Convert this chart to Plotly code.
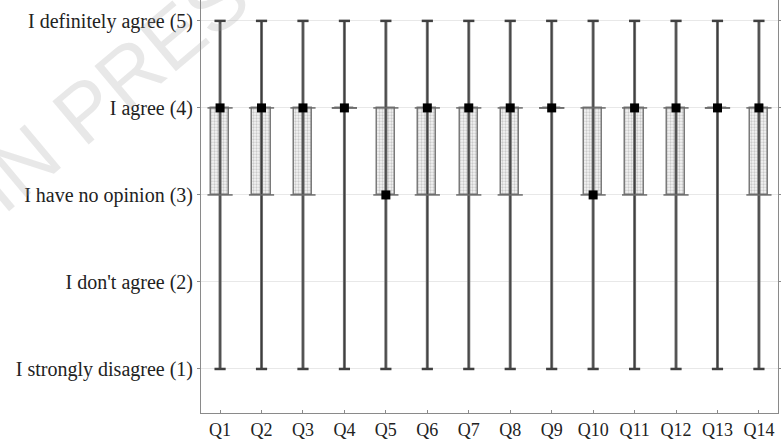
import plotly.graph_objects as go

questions = ["Q1", "Q2", "Q3", "Q4", "Q5", "Q6", "Q7", "Q8", "Q9", "Q10", "Q11", "Q12", "Q13", "Q14"]
mins = [1, 1, 1, 1, 1, 1, 1, 1, 1, 1, 1, 1, 1, 1]
q1s = [3, 3, 3, 4, 3, 3, 3, 3, 4, 3, 3, 3, 4, 3]
medians = [4, 4, 4, 4, 3, 4, 4, 4, 4, 3, 4, 4, 4, 4]
q3s = [4, 4, 4, 4, 4, 4, 4, 4, 4, 4, 4, 4, 4, 4]
maxs = [5, 5, 5, 5, 5, 5, 5, 5, 5, 5, 5, 5, 5, 5]
level_values = [1, 2, 3, 4, 5]
level_labels = ["I strongly disagree (1)", "I don't agree (2)", "I have no opinion (3)",
                "I agree (4)", "I definitely agree (5)"]

serif = "Liberation Serif, Times New Roman, serif"

wx, wy = [], []
for q, lo, hi in zip(questions, mins, maxs):
    wx += [q, q, None]
    wy += [lo, hi, None]

fig = go.Figure()

# whiskers
fig.add_trace(go.Scatter(x=wx, y=wy, mode="lines",
                         line=dict(color="#6e6e6e", width=3), hoverinfo="skip"))
fig.add_trace(go.Scatter(x=wx, y=wy, mode="lines",
                         line=dict(color="#3c3c3c", width=1), hoverinfo="skip"))
# caps
fig.add_trace(go.Scatter(x=questions + questions, y=mins + maxs, mode="markers",
                         marker=dict(symbol="line-ew", size=8,
                                     line=dict(color="#404040", width=2.5)),
                         hoverinfo="skip"))
# boxes
fig.add_trace(go.Bar(x=questions, base=q1s, y=[b - a for a, b in zip(q1s, q3s)],
                     width=0.44,
                     marker=dict(color="white",
                                 line=dict(color="#7a7a7a", width=1.5),
                                 pattern=dict(shape=".", fgcolor="#a0a0a0", bgcolor="#f4f4f4",
                                              size=3, solidity=0.45))))
# box edges (visible also for collapsed boxes)
fig.add_trace(go.Scatter(x=questions + questions, y=q1s + q3s, mode="markers",
                         marker=dict(symbol="line-ew", size=18,
                                     line=dict(color="#6a6a6a", width=1.5)),
                         hoverinfo="skip"))
# medians
fig.add_trace(go.Scatter(x=questions, y=medians, mode="markers",
                         marker=dict(symbol="square", size=9, color="black",
                                     line=dict(width=0))))

fig.add_annotation(text="IN PRESS", xref="paper", yref="paper", x=-0.121, y=0.828,
                   xanchor="center", yanchor="middle",
                   showarrow=False, textangle=-40,
                   font=dict(family="Liberation Sans, Arial, sans-serif", size=82,
                             color="rgba(150,150,150,0.22)"))

fig.update_layout(
    width=781, height=446,
    margin=dict(l=201, r=3, t=0, b=33),
    paper_bgcolor="white", plot_bgcolor="white",
    showlegend=False, bargap=0,
    xaxis=dict(categoryorder="array", categoryarray=questions,
               range=[-0.46, 13.46], showgrid=False, zeroline=False,
               showline=True, linecolor="#8a8a8a", linewidth=1,
               ticks="inside", ticklen=3, tickcolor="#8a8a8a",
               tickfont=dict(family=serif, size=18, color="#222")),
    yaxis=dict(range=[0.494, 5.24], tickvals=level_values, ticktext=level_labels,
               showgrid=True, gridcolor="#e8e8e8", gridwidth=1, zeroline=False,
               showline=True, linecolor="#8a8a8a", linewidth=1, mirror="ticks",
               ticks="outside", ticklen=3, tickcolor="#8a8a8a",
               tickfont=dict(family=serif, size=20, color="#222")),
)

fig.write_html("out.html", config={"displayModeBar": False},
               post_script="document.body.style.margin='0';")
